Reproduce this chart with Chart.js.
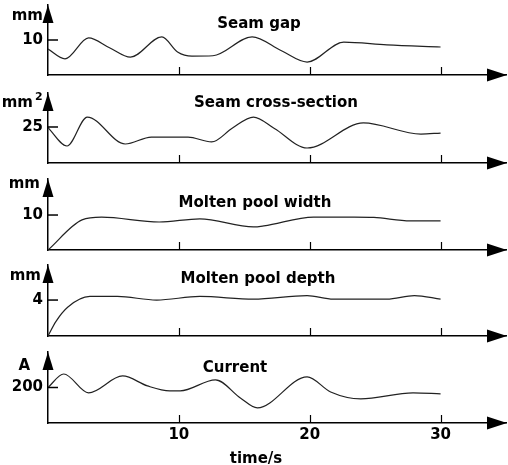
<!DOCTYPE html>
<html lang="en">
<head>
    <meta charset="UTF-8">
    <title>Welding process signals</title>
    <script src="https://cdn.jsdelivr.net/npm/chart.js"></script>
    <style>
        body {
            margin: 0;
            background: #fff;
        }
        .wrap {
            position: relative;
            width: 508px;
            height: 465px;
        }
        .wrap canvas {
            position: absolute;
            left: 0;
        }
    </style>
</head>
<body>
    <div class="wrap" id="wrap"></div>

    <script>
        // values (time in s)
        const gapT = [0, 1.3, 3.1, 4.7, 6.3, 8.7, 9.9, 11.0, 12.6, 15.6, 17.8, 19.8, 22.6, 25.9, 30];
        const gapV = [7.4, 4.6, 10.6, 7.8, 5.1, 10.9, 6.6, 5.4, 5.5, 10.9, 7.0, 3.7, 9.4, 8.6, 8.0];

        const crossT = [0, 1.45, 3.0, 5.9, 7.9, 10.7, 12.5, 14.1, 15.7, 17.3, 19.8, 24.1, 28.5, 30];
        const crossV = [24.5, 11.8, 31.9, 13.2, 18, 18, 14.6, 24.3, 31.9, 24, 10.4, 27.8, 20.1, 20.8];

        const widthT = [0, 2.6, 4.1, 8.5, 11.6, 15.7, 16.5, 20.3, 23.4, 24.9, 27.7, 30];
        const widthV = [0, 8.6, 9.4, 8.0, 8.9, 6.6, 6.9, 9.4, 9.4, 9.3, 8.3, 8.3];

        const depthT = [0, 0.6, 1.5, 3.2, 5.3, 8.3, 11.6, 15.7, 19.8, 21.8, 25.9, 28.0, 30];
        const depthV = [0, 1.6, 3.2, 4.4, 4.4, 4.0, 4.4, 4.1, 4.5, 4.1, 4.1, 4.5, 4.1];

        const currT = [0, 1.2, 3.1, 5.7, 7.6, 9.3, 10.1, 12.8, 14.7, 16.0, 19.8, 21.6, 23.9, 27.9, 30];
        const currV = [200, 276, 170, 265, 209, 181, 181, 243, 141, 85, 260, 175, 136, 170, 164];

        const titles = ['Seam gap', 'Seam cross-section', 'Molten pool width', 'Molten pool depth', 'Current'];
        const units = ['mm', 'mm', 'mm', 'mm', 'A'];
        const yTickValues = [10, 25, 10, 4, 200];
        const yMaxValues = [20, 48.6, 20.3, 7.9, 400];
        const xTickValues = [10, 20, 30];
        const xMax = 35;

        const series = [
            [gapT, gapV],
            [crossT, crossV],
            [widthT, widthV],
            [depthT, depthV],
            [currT, currV]
        ];

        // layout of each panel on the page (text positions in canvas px)
        const panels = [
            { top: 0,   height: 85,  padTop: 5, xH: 10, titleX: 259, titleY: 28, unitX: 43, unitY: 20 },
            { top: 85,  height: 90,  padTop: 8, xH: 12, titleX: 276, titleY: 22, unitX: 33, unitY: 22, sup: '2' },
            { top: 175, height: 85,  padTop: 4, xH: 10, titleX: 255, titleY: 32, unitX: 40, unitY: 13 },
            { top: 260, height: 85,  padTop: 5, xH: 9,  titleX: 258, titleY: 23, unitX: 41, unitY: 20 },
            { top: 345, height: 120, padTop: 7, xH: 42, titleX: 235, titleY: 27, unitX: 30, unitY: 25, xLabels: true }
        ];

        const FONT = '"DejaVu Sans", Arial, sans-serif';

        // keep the plot area where we put it
        function noPad(s) {
            s.paddingTop = 0;
            s.paddingBottom = 0;
            s.paddingLeft = 0;
            s.paddingRight = 0;
        }

        const decor = {
            id: 'decor',
            afterDraw(chart, args, opts) {
                const ctx = chart.ctx;
                const area = chart.chartArea;
                const xs = chart.scales.x;
                const ys = chart.scales.y;
                ctx.save();
                ctx.strokeStyle = '#000';
                ctx.fillStyle = '#000';
                ctx.lineWidth = 1.5;

                // y tick mark (inside)
                const ty = ys.getPixelForValue(opts.tick);
                ctx.beginPath();
                ctx.moveTo(area.left, ty);
                ctx.lineTo(area.left + 10, ty);
                ctx.stroke();

                // x tick marks (inside)
                ctx.lineWidth = 1.2;
                xTickValues.forEach(v => {
                    const tx = Math.round(xs.getPixelForValue(v)) + 0.5;
                    ctx.beginPath();
                    ctx.moveTo(tx, area.bottom);
                    ctx.lineTo(tx, area.bottom - 8);
                    ctx.stroke();
                });

                // arrow heads
                const ax = area.left;
                ctx.beginPath();
                ctx.moveTo(ax, area.top);
                ctx.lineTo(ax - 5.5, area.top + 18);
                ctx.lineTo(ax + 5.5, area.top + 18);
                ctx.closePath();
                ctx.fill();

                const tipX = xs.getPixelForValue(xMax) + 1;
                ctx.beginPath();
                ctx.moveTo(tipX, area.bottom);
                ctx.lineTo(tipX - 20, area.bottom - 6.5);
                ctx.lineTo(tipX - 20, area.bottom + 6.5);
                ctx.closePath();
                ctx.fill();

                // title and unit
                const p = opts.panel;
                ctx.font = 'bold 15px ' + FONT;
                ctx.textBaseline = 'alphabetic';
                ctx.textAlign = 'center';
                ctx.fillText(opts.title, p.titleX, p.titleY);
                ctx.textAlign = 'right';
                ctx.fillText(opts.unit, p.unitX, p.unitY);
                if (p.sup) {
                    ctx.font = 'bold 11px ' + FONT;
                    ctx.textAlign = 'left';
                    ctx.fillText(p.sup, p.unitX + 2, p.unitY - 7);
                }
                if (p.xLabels) {
                    ctx.font = 'bold 15px ' + FONT;
                    ctx.textAlign = 'center';
                    ctx.fillText('time/s', 256, area.bottom + 40);
                }
                ctx.restore();
            }
        };

        const wrap = document.getElementById('wrap');

        panels.forEach((p, i) => {
            const canvas = document.createElement('canvas');
            canvas.width = 508;
            canvas.height = p.height;
            canvas.style.top = p.top + 'px';
            wrap.appendChild(canvas);

            const [ts, vs] = series[i];
            const tickValue = yTickValues[i];

            new Chart(canvas.getContext('2d'), {
                type: 'line',
                data: {
                    datasets: [{
                        data: ts.map((t, k) => ({ x: t, y: vs[k] })),
                        borderColor: '#222',
                        borderWidth: 1.2,
                        pointRadius: 0,
                        cubicInterpolationMode: 'monotone',
                        fill: false
                    }]
                },
                options: {
                    responsive: false,
                    animation: false,
                    devicePixelRatio: 1,
                    layout: { padding: { top: p.padTop, right: 2, left: 0, bottom: 0 } },
                    plugins: {
                        legend: { display: false },
                        tooltip: { enabled: false },
                        decor: { tick: tickValue, title: titles[i], unit: units[i], panel: p }
                    },
                    scales: {
                        x: {
                            type: 'linear',
                            min: 0,
                            max: xMax,
                            afterBuildTicks: s => { s.ticks = xTickValues.map(v => ({ value: v })); },
                            afterFit: s => { s.height = p.xH; noPad(s); },
                            grid: { drawOnChartArea: false, drawTicks: false },
                            border: { display: true, color: '#000', width: 1.5 },
                            ticks: {
                                display: !!p.xLabels,
                                padding: 3,
                                color: '#000',
                                maxRotation: 0,
                                font: { family: FONT, size: 15, weight: 'bold' }
                            }
                        },
                        y: {
                            min: 0,
                            max: yMaxValues[i],
                            afterBuildTicks: s => { s.ticks = [{ value: tickValue }]; },
                            afterFit: s => { s.width = 48; noPad(s); },
                            grid: { drawOnChartArea: false, drawTicks: false },
                            border: { display: true, color: '#000', width: 1.5 },
                            ticks: {
                                padding: 5,
                                color: '#000',
                                font: { family: FONT, size: 15, weight: 'bold' }
                            }
                        }
                    }
                },
                plugins: [decor]
            });
        });
    </script>
</body>
</html>
